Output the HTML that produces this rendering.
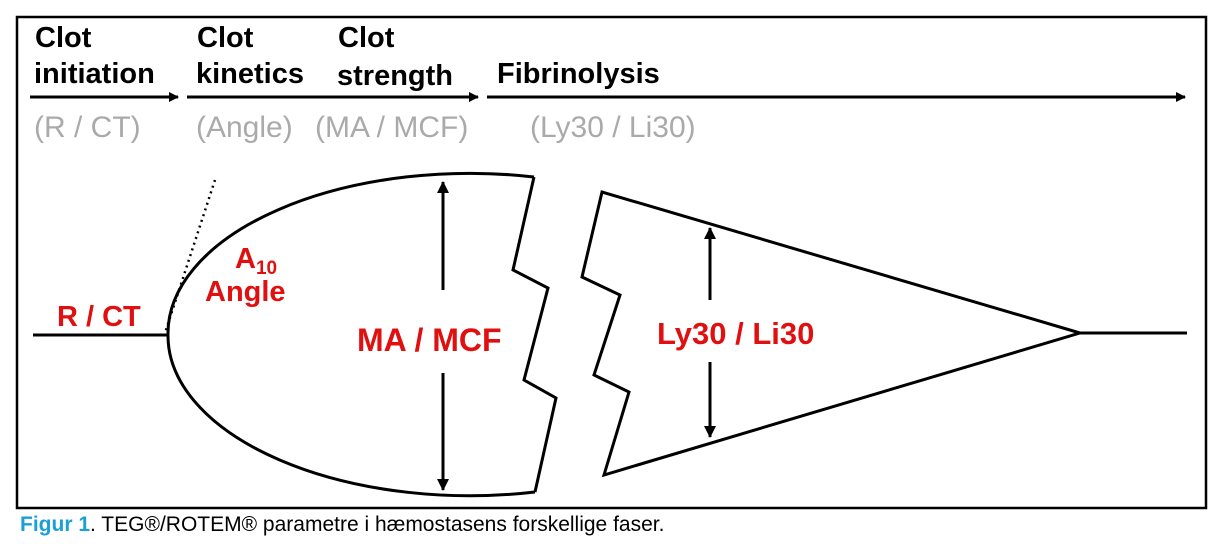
<!DOCTYPE html>
<html><head><meta charset="utf-8"><style>
body{margin:0;background:#fff;width:1232px;height:544px;overflow:hidden}
svg{display:block}
</style></head><body>
<svg width="1232" height="544" viewBox="0 0 1232 544" font-family="Liberation Sans, Arial, sans-serif">
<defs>
<marker id="ah" markerWidth="10" markerHeight="10" refX="9" refY="5" orient="auto" markerUnits="userSpaceOnUse">
<path d="M0,0 L10,5 L0,10 z" fill="#000"/></marker>
<marker id="ah2" markerWidth="12" markerHeight="12" refX="11" refY="6" orient="auto" markerUnits="userSpaceOnUse">
<path d="M0,0 L12,6 L0,12 z" fill="#000"/></marker>
</defs>
<rect x="17" y="17" width="1189" height="491" fill="none" stroke="#000" stroke-width="2.5"/>
<g font-weight="bold" font-size="29" fill="#000">
<text x="35" y="47">Clot</text><text x="34" y="83">initiation</text>
<text x="197" y="47">Clot</text><text x="196" y="83">kinetics</text>
<text x="338" y="47">Clot</text><text x="337" y="85">strength</text>
<text x="497" y="83">Fibrinolysis</text>
</g>
<g stroke="#000" stroke-width="3" fill="none">
<line x1="30" y1="97" x2="178" y2="97" marker-end="url(#ah)"/>
<line x1="187" y1="97" x2="478" y2="97" marker-end="url(#ah)"/>
<line x1="487" y1="97" x2="1185" y2="97" marker-end="url(#ah)"/>
</g>
<g font-size="30" fill="#aaa">
<text x="34" y="137">(R / CT)</text>
<text x="196" y="137">(Angle)</text>
<text x="315" y="137">(MA / MCF)</text>
<text x="530" y="137">(Ly30 / Li30)</text>
</g>
<g stroke="#000" stroke-width="3" fill="none" stroke-linejoin="miter">
<line x1="33" y1="335" x2="168" y2="335"/>
<path d="M534,177 A302,160 0 0 0 168,335 A302,160 0 0 0 535,492"/>
<path d="M534,177 L513,270 L548,288 L524,380 L556,398 L535,492"/>
<path d="M1080,333 L602,192 L582,277 L620,295 L594,375 L629,392 L604,475 L1080,333 L1187,333"/>
<line x1="443" y1="290" x2="443" y2="182" marker-end="url(#ah2)"/>
<line x1="443" y1="373" x2="443" y2="490" marker-end="url(#ah2)"/>
<line x1="710" y1="300" x2="710" y2="228" marker-end="url(#ah2)"/>
<line x1="710" y1="362" x2="710" y2="437" marker-end="url(#ah2)"/>
</g>
<line x1="215" y1="180" x2="165" y2="333" stroke="#000" stroke-width="2.5" stroke-dasharray="2,4"/>
<g font-weight="bold" font-size="29" fill="#e01010">
<text x="57" y="326">R / CT</text>
<text x="235" y="268">A<tspan font-size="19" dy="6">10</tspan></text>
<text x="205" y="301">Angle</text>
<text x="357" y="351" font-size="32">MA / MCF</text>
<text x="657" y="344" font-size="31">Ly30 / Li30</text>
</g>
<text x="20" y="531" font-size="21" fill="#000"><tspan fill="#1a9fd9" font-weight="bold">Figur 1</tspan>. TEG®/ROTEM® parametre i hæmostasens forskellige faser.</text>
</svg>
</body></html>
